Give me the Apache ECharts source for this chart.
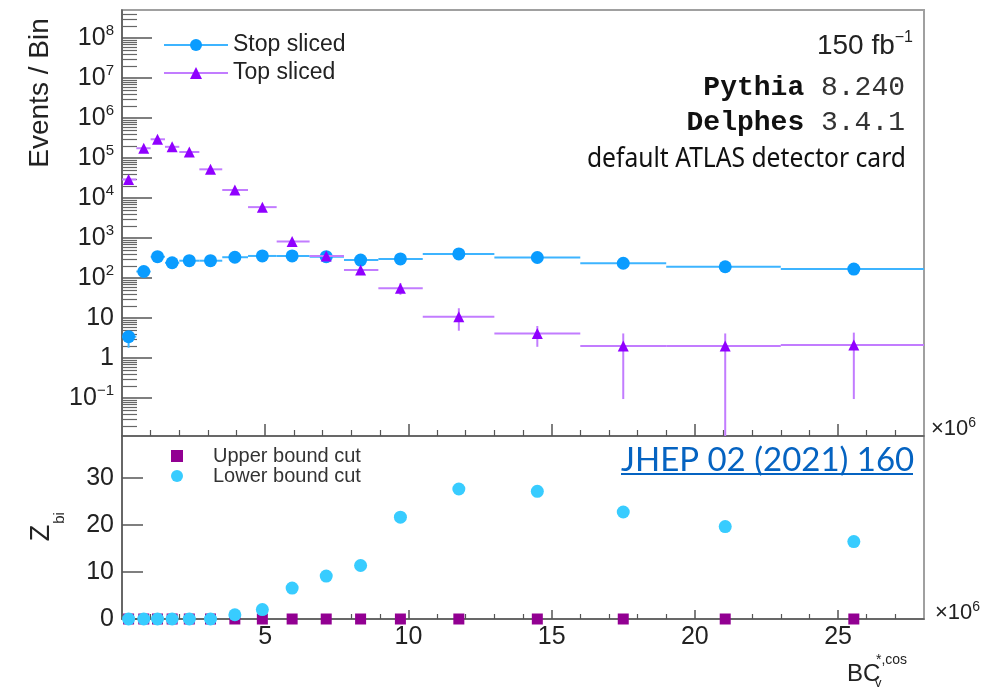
<!DOCTYPE html>
<html>
<head>
<meta charset="utf-8">
<title>BC cos slices</title>
<script src="https://cdn.jsdelivr.net/npm/echarts@6/dist/echarts.min.js"></script>
</head>
<body style="margin:0;background:#fff">
<div id="chart" style="width:999px;height:690px"></div>
<script type="text/javascript">
// x in units of 10^6
var binCenter = [0.23, 0.76, 1.24, 1.75, 2.35, 3.09, 3.94, 4.9, 5.94, 7.13, 8.33, 9.72, 11.76, 14.5, 17.5, 21.06, 25.55];
var binEdges  = [0, 0.5, 1.0, 1.5, 2.0, 2.7, 3.5, 4.4, 5.4, 6.55, 7.75, 8.95, 10.5, 13.0, 16.0, 19.0, 23.0, 28.0];

// Stop sliced (events / bin) and error bar ends
var stopVal = [3.4, 145, 340, 240, 270, 270, 330, 355, 355, 340, 280, 300, 400, 325, 233, 191, 167];
var stopLo  = [1.8, 130, 320, 225, 255, 255, 315, 340, 340, 325, 265, 285, 385, 310, 221, 182, 159];
var stopHi  = [4.2, 160, 360, 255, 285, 285, 345, 370, 370, 355, 295, 315, 415, 340, 245, 200, 175];

// Top sliced
var topVal = [29000, 175000, 293000, 190000, 141000, 52000, 15800, 5900, 810, 355, 158, 55, 10.8, 4.1, 2.0, 2.0, 2.1];
var topLo  = [27000, 170000, 286000, 184000, 136000, 50000, 15100, 5500, 740, 310, 120, 38, 4.8, 1.9, 0.094, 0, 0.094];
var topHi  = [31000, 180000, 300000, 196000, 146000, 54000, 16500, 6300, 880, 400, 190, 74, 17.5, 6.3, 4.1, 4.1, 4.3];

// Z_bi lower panel
var upperZ = [0, 0, 0, 0, 0, 0, 0, 0, 0, 0, 0, 0, 0, 0, 0, 0, 0];
var lowerZ = [0, 0, 0, 0, 0, 0, 0.9, 2.0, 6.6, 9.15, 11.4, 21.7, 27.7, 27.2, 22.8, 19.7, 16.5];

// axis ticks
var logMajor = [0.1, 1, 10, 100, 1e3, 1e4, 1e5, 1e6, 1e7, 1e8];
var xMajor = [5, 10, 15, 20, 25];
var zMajor = [0, 10, 20, 30];
var yMin = 0.0112, yMax = 5e8;

var logMinor = [];
for (var k = -2; k <= 8; k++) {
  for (var m = 2; m <= 9; m++) {
    var v = m * Math.pow(10, k);
    if (v > yMin && v < yMax) logMinor.push(v);
  }
}
var xMinor = [];
for (var i = 1; i < 28; i++) { if (i % 5 !== 0) xMinor.push(i); }

function errData(val, lo, hi) {
  var out = [];
  for (var i = 0; i < val.length; i++) {
    out.push([binCenter[i], val[i], binEdges[i], binEdges[i + 1], Math.max(lo[i], yMin), hi[i]]);
  }
  return out;
}
function pts(val) {
  return val.map(function (v, i) { return [binCenter[i], v]; });
}

function errRender(color) {
  return function (params, api) {
    var l = api.coord([api.value(2), api.value(1)]);
    var r = api.coord([api.value(3), api.value(1)]);
    var b = api.coord([api.value(0), api.value(4)]);
    var t = api.coord([api.value(0), api.value(5)]);
    return {
      type: 'group',
      children: [
        { type: 'line', shape: { x1: l[0], y1: l[1], x2: r[0], y2: r[1] }, style: { stroke: color, lineWidth: 2 } },
        { type: 'line', shape: { x1: b[0], y1: b[1], x2: t[0], y2: t[1] }, style: { stroke: color, lineWidth: 2 } }
      ]
    };
  };
}

function logLabel(v) {
  var k = Math.round(Math.log10(v));
  if (k === 0) return '{b|1}';
  if (k === 1) return '{b|10}';
  return '{b|10}{s|' + (k < 0 ? '\u2212' + (-k) : k) + '}';
}

var FONT = 'Liberation Sans';
var axisCol = '#555';

var myChart = echarts.init(document.getElementById('chart'));
myChart.setOption({
  animation: false,
  textStyle: { fontFamily: FONT },
  grid: [
    { left: 122, top: 10, width: 802, height: 426, show: true, borderColor: '#a0a0a0', borderWidth: 2 },
    { left: 122, top: 436, width: 802, height: 183, show: true, borderColor: '#a0a0a0', borderWidth: 2 }
  ],
  xAxis: [
    { type: 'value', gridIndex: 0, position: 'bottom', min: 0, max: 28,
      axisLine: { lineStyle: { color: axisCol, width: 1.5 } },
      axisTick: { inside: true, length: 12, customValues: xMajor, lineStyle: { color: axisCol, width: 1.5 } },
      axisLabel: { show: false }, splitLine: { show: false } },
    { type: 'value', gridIndex: 0, position: 'bottom', min: 0, max: 28,
      axisLine: { show: false },
      axisTick: { inside: true, length: 6, customValues: xMinor, lineStyle: { color: axisCol, width: 1.2 } },
      axisLabel: { show: false }, splitLine: { show: false } },
    { type: 'value', gridIndex: 1, position: 'bottom', min: 0, max: 28,
      axisLine: { lineStyle: { color: axisCol, width: 1.5 } },
      axisTick: { inside: true, length: 9, customValues: xMajor, lineStyle: { color: axisCol, width: 1.5 } },
      axisLabel: { customValues: xMajor, fontSize: 25, color: '#222', margin: 6 },
      splitLine: { show: false } },
    { type: 'value', gridIndex: 1, position: 'bottom', min: 0, max: 28,
      axisLine: { show: false },
      axisTick: { inside: true, length: 5, customValues: xMinor, lineStyle: { color: axisCol, width: 1.2 } },
      axisLabel: { show: false }, splitLine: { show: false } }
  ],
  yAxis: [
    { type: 'log', logBase: 10, gridIndex: 0, position: 'left', min: yMin, max: yMax,
      axisLine: { show: true, lineStyle: { color: axisCol, width: 1.5 } },
      axisTick: { inside: true, length: 30, customValues: logMajor, lineStyle: { color: axisCol, width: 1.5 } },
      axisLabel: {
        customValues: logMajor, formatter: logLabel, margin: 8,
        rich: {
          b: { fontSize: 25, fontFamily: FONT, color: '#222', lineHeight: 30 },
          s: { fontSize: 15, fontFamily: FONT, color: '#222', verticalAlign: 'top', lineHeight: 15 }
        }
      },
      splitLine: { show: false } },
    { type: 'log', logBase: 10, gridIndex: 0, position: 'left', min: yMin, max: yMax,
      axisLine: { show: false },
      axisTick: { inside: true, length: 15, customValues: logMinor, lineStyle: { color: '#666', width: 1.2 } },
      axisLabel: { show: false }, splitLine: { show: false } },
    { type: 'value', gridIndex: 1, position: 'left', min: 0, max: 39,
      axisLine: { show: true, lineStyle: { color: axisCol, width: 1.5 } },
      axisTick: { inside: true, length: 21, customValues: zMajor, lineStyle: { color: axisCol, width: 1.5 } },
      axisLabel: { customValues: zMajor, fontSize: 25, color: '#222', margin: 8 },
      splitLine: { show: false } }
  ],
  legend: [
    { data: [
        { name: 'Stop sliced', lineStyle: { color: '#3db4ff', width: 2, opacity: 1 } },
        { name: 'Top sliced', lineStyle: { color: '#c27cff', width: 2, opacity: 1 } }
      ],
      orient: 'vertical', left: 163, top: 32, padding: 0, itemWidth: 64, itemHeight: 15, itemGap: 2,
      selectedMode: false,
      textStyle: { fontSize: 23, color: '#222', lineHeight: 26 } },
    { data: [
        { name: 'Upper bound cut', icon: 'path://M0,0L10,0L10,10L0,10Z' },
        { name: 'Lower bound cut', icon: 'circle' }
      ],
      orient: 'vertical', left: 171, top: 446, padding: 0, itemWidth: 62, itemHeight: 12, itemGap: 0,
      symbolKeepAspect: true, selectedMode: false,
      textStyle: { fontSize: 20, color: '#333', lineHeight: 19 } }
  ],
  series: [
    { name: 'stop-err', type: 'custom', xAxisIndex: 0, yAxisIndex: 0,
      renderItem: errRender('#3db4ff'), encode: { x: [0, 2, 3], y: [1, 4, 5] },
      data: errData(stopVal, stopLo, stopHi), z: 2 },
    { name: 'Stop sliced', type: 'line', xAxisIndex: 0, yAxisIndex: 0,
      data: pts(stopVal), symbol: 'circle', symbolSize: 13, showSymbol: true,
      lineStyle: { width: 0 }, itemStyle: { color: '#0a9cff' }, z: 3 },
    { name: 'top-err', type: 'custom', xAxisIndex: 0, yAxisIndex: 0,
      renderItem: errRender('#c27cff'), encode: { x: [0, 2, 3], y: [1, 4, 5] },
      data: errData(topVal, topLo, topHi), z: 4 },
    { name: 'Top sliced', type: 'line', xAxisIndex: 0, yAxisIndex: 0,
      data: pts(topVal), symbol: 'triangle', symbolSize: 11, showSymbol: true,
      lineStyle: { width: 0 }, itemStyle: { color: '#9000ff' }, z: 5 },
    { name: 'Upper bound cut', type: 'scatter', xAxisIndex: 2, yAxisIndex: 2,
      data: pts(upperZ), symbol: 'rect', symbolSize: 11, itemStyle: { color: '#920092', opacity: 1 }, z: 3 },
    { name: 'Lower bound cut', type: 'scatter', xAxisIndex: 2, yAxisIndex: 2,
      data: pts(lowerZ), symbol: 'circle', symbolSize: 13, itemStyle: { color: '#38ccff', opacity: 1 }, z: 4 }
  ],
  graphic: [
    { type: 'text', x: 40, y: 93, rotation: Math.PI / 2,
      style: { text: 'Events / Bin', font: '28px "Liberation Sans"', fill: '#222', align: 'center', verticalAlign: 'middle' } },
    { type: 'text', x: 42, y: 533, rotation: Math.PI / 2,
      style: { text: 'Z', font: '27px "Liberation Sans"', fill: '#222', align: 'center', verticalAlign: 'middle' } },
    { type: 'text', x: 60, y: 518, rotation: Math.PI / 2,
      style: { text: 'bi', font: '15px "Liberation Sans"', fill: '#222', align: 'center', verticalAlign: 'middle' } },
    { type: 'text', x: 913, y: 46,
      style: { text: '{a|150 fb}{s|\u22121}', fill: '#222', align: 'right', verticalAlign: 'middle',
        rich: { a: { fontSize: 28, fontFamily: FONT, lineHeight: 32 },
                s: { fontSize: 16, fontFamily: FONT, verticalAlign: 'top', lineHeight: 16 } } } },
    { type: 'text', x: 905, y: 88,
      style: { text: '{b|Pythia}{r| 8.240}', fill: '#111', align: 'right', verticalAlign: 'middle',
        rich: { b: { fontSize: 28, fontFamily: 'Liberation Mono', fontWeight: 'bold' },
                r: { fontSize: 28, fontFamily: 'Liberation Mono', fill: '#333' } } } },
    { type: 'text', x: 905, y: 123,
      style: { text: '{b|Delphes}{r| 3.4.1}', fill: '#111', align: 'right', verticalAlign: 'middle',
        rich: { b: { fontSize: 28, fontFamily: 'Liberation Mono', fontWeight: 'bold' },
                r: { fontSize: 28, fontFamily: 'Liberation Mono', fill: '#333' } } } },
    { type: 'text', x: 906, y: 159, scaleX: 0.88,
      style: { text: 'default ATLAS detector card', font: '28px "Noto Sans"', fill: '#111', align: 'right', verticalAlign: 'middle' } },
    { type: 'text', x: 621, y: 460,
      style: { text: 'JHEP 02 (2021) 160', font: '33px Lato', fill: '#0563c1', align: 'left', verticalAlign: 'middle' } },
    { type: 'line', shape: { x1: 621, y1: 474, x2: 913, y2: 474 }, style: { stroke: '#0563c1', lineWidth: 2 } },
    { type: 'text', x: 931, y: 429,
      style: { text: '{a|\u00d710}{s|6}', fill: '#222', align: 'left', verticalAlign: 'middle',
        rich: { a: { fontSize: 22, fontFamily: FONT, lineHeight: 26 },
                s: { fontSize: 14, fontFamily: FONT, verticalAlign: 'top', lineHeight: 14 } } } },
    { type: 'text', x: 935, y: 613,
      style: { text: '{a|\u00d710}{s|6}', fill: '#222', align: 'left', verticalAlign: 'middle',
        rich: { a: { fontSize: 22, fontFamily: FONT, lineHeight: 26 },
                s: { fontSize: 14, fontFamily: FONT, verticalAlign: 'top', lineHeight: 14 } } } },
    { type: 'text', x: 847, y: 674,
      style: { text: 'BC', font: '24px "Liberation Sans"', fill: '#222', align: 'left', verticalAlign: 'middle' } },
    { type: 'text', x: 876, y: 660,
      style: { text: '*,cos', font: '14px "Liberation Sans"', fill: '#222', align: 'left', verticalAlign: 'middle' } },
    { type: 'text', x: 875, y: 683,
      style: { text: 'v', font: '13px "Liberation Sans"', fill: '#222', align: 'left', verticalAlign: 'middle' } }
  ]
});
</script>
</body>
</html>
